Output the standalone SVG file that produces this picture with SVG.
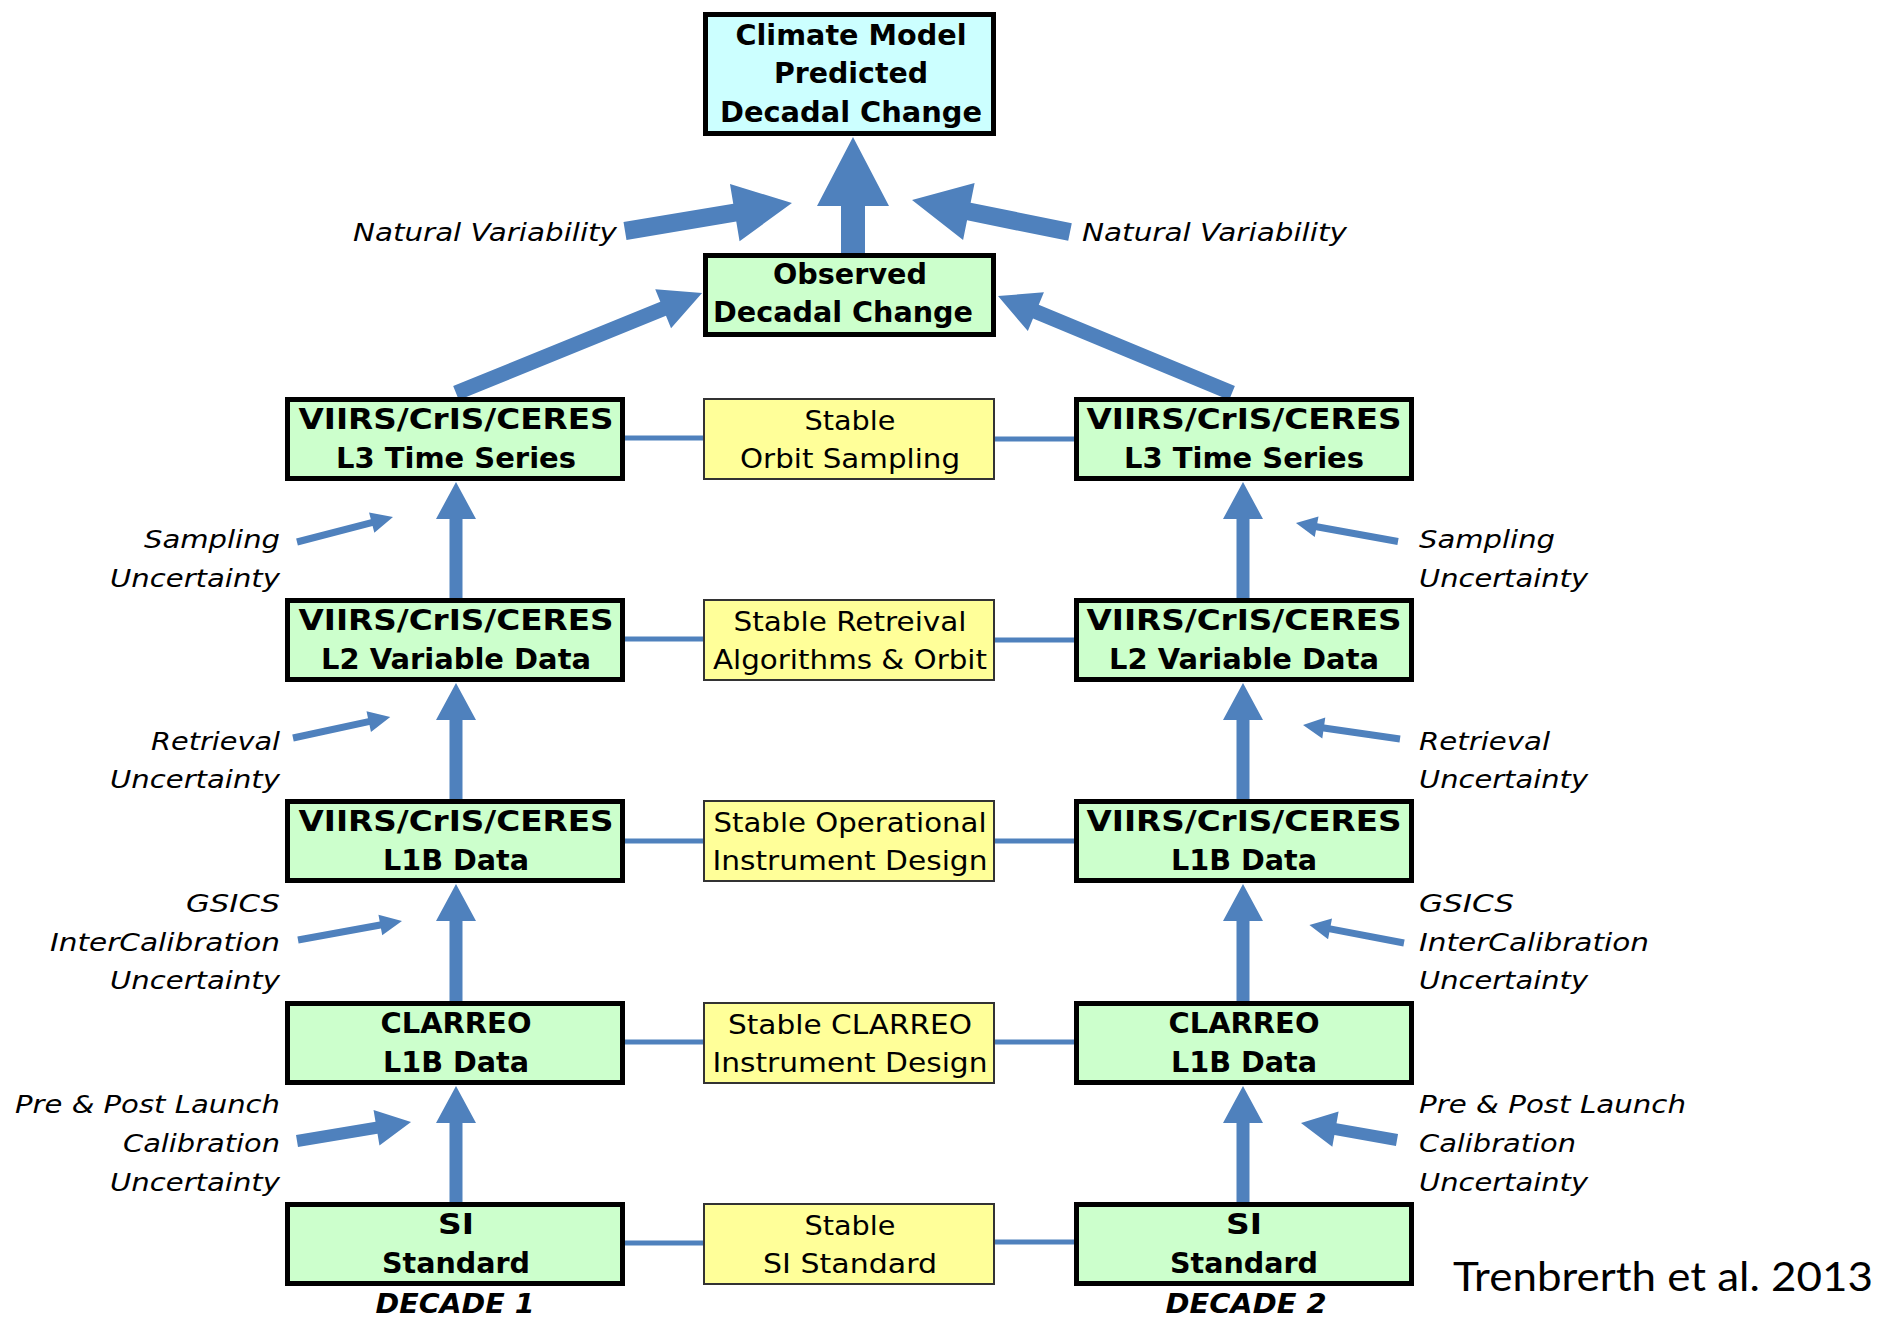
<svg xmlns="http://www.w3.org/2000/svg" xmlns:xlink="http://www.w3.org/1999/xlink" width="1880" height="1317" viewBox="0 0 1880 1317">
<defs>
<style>
.g{fill:#CCFFCC;stroke:#000;stroke-width:5}
.c{fill:#CCFFFF;stroke:#000;stroke-width:5}
.y{fill:#FFFF99;stroke:#333;stroke-width:2}
.tb{font-family:"DejaVu Sans",Verdana,sans-serif;font-weight:bold;font-size:28px;text-anchor:middle;fill:#000}
.tr{font-family:"DejaVu Sans",Verdana,sans-serif;font-size:27px;text-anchor:middle;fill:#000}
.ti{font-family:"DejaVu Sans",Verdana,sans-serif;font-style:italic;font-size:25px;fill:#000}
.te{text-anchor:end}
.td{font-family:"DejaVu Sans",Verdana,sans-serif;font-style:italic;font-weight:bold;font-size:27px;text-anchor:middle;fill:#000}
.arr{fill:#4F81BD}
.ln{stroke:#4F81BD;stroke-width:5;fill:none}
</style>
<path id="varrow" class="arr" d="M0,0 L20,37 L6.5,37 L6.5,117 L-6.5,117 L-6.5,37 L-20,37 Z"/>
</defs>
<rect width="1880" height="1317" fill="#fff"/>

<g id="connectors">
  <line class="ln" x1="625" y1="438" x2="704" y2="438"/>
  <line class="ln" x1="994" y1="439" x2="1075" y2="439"/>
  <line class="ln" x1="625" y1="639" x2="704" y2="639"/>
  <line class="ln" x1="994" y1="640" x2="1075" y2="640"/>
  <line class="ln" x1="625" y1="841" x2="704" y2="841"/>
  <line class="ln" x1="994" y1="841" x2="1075" y2="841"/>
  <line class="ln" x1="625" y1="1042" x2="704" y2="1042"/>
  <line class="ln" x1="994" y1="1042" x2="1075" y2="1042"/>
  <line class="ln" x1="625" y1="1243" x2="704" y2="1243"/>
  <line class="ln" x1="994" y1="1242" x2="1075" y2="1242"/>
  <use href="#varrow" x="456" y="482"/>
  <use href="#varrow" x="456" y="683"/>
  <use href="#varrow" x="456" y="884"/>
  <use href="#varrow" x="456" y="1086"/>
  <use href="#varrow" x="1243" y="482"/>
  <use href="#varrow" x="1243" y="683"/>
  <use href="#varrow" x="1243" y="884"/>
  <use href="#varrow" x="1243" y="1086"/>
  <polygon class="arr" points="841,253 841,206 817,206 853,137 889,206 865,206 865,253"/>
  <polygon class="arr" transform="translate(625,231) rotate(-9.52)" points="0,-9 111.3,-9 111.3,-29 169.3,0 111.3,29 111.3,9 0,9"/>
  <polygon class="arr" transform="translate(1070,232) rotate(-168.55)" points="0,-9 103.2,-9 103.2,-29 161.2,0 103.2,29 103.2,9 0,9"/>
  <polygon class="arr" transform="translate(456,393) rotate(-22.12)" points="0,-7.5 223.6,-7.5 223.6,-21 265.6,0 223.6,21 223.6,7.5 0,7.5"/>
  <polygon class="arr" transform="translate(1232,393) rotate(-157.48)" points="0,-7.5 212.3,-7.5 212.3,-21 253.3,0 212.3,21 212.3,7.5 0,7.5"/>
  <polygon class="arr" transform="translate(297,542) rotate(-14.6)" points="0,-3.5 77.2,-3.5 77.2,-10.5 99.2,0 77.2,10.5 77.2,3.5 0,3.5"/>
  <polygon class="arr" transform="translate(293,738) rotate(-12.2)" points="0,-3.5 77.5,-3.5 77.5,-10.5 99.5,0 77.5,10.5 77.5,3.5 0,3.5"/>
  <polygon class="arr" transform="translate(298,940) rotate(-10.35)" points="0,-3.5 83.7,-3.5 83.7,-10.5 105.7,0 83.7,10.5 83.7,3.5 0,3.5"/>
  <polygon class="arr" transform="translate(297,1141) rotate(-9.46)" points="0,-6 80.6,-6 80.6,-18 115.6,0 80.6,18 80.6,6 0,6"/>
  <polygon class="arr" transform="translate(1398,541.5) rotate(-169.72)" points="0,-3.5 82.7,-3.5 82.7,-10.5 103.7,0 82.7,10.5 82.7,3.5 0,3.5"/>
  <polygon class="arr" transform="translate(1400,739) rotate(-171.79)" points="0,-3.5 77,-3.5 77,-10.5 98,0 77,10.5 77,3.5 0,3.5"/>
  <polygon class="arr" transform="translate(1404,943) rotate(-169.23)" points="0,-3.5 75.3,-3.5 75.3,-10.5 96.3,0 75.3,10.5 75.3,3.5 0,3.5"/>
  <polygon class="arr" transform="translate(1397,1140) rotate(-169.96)" points="0,-6 62.5,-6 62.5,-18 97.5,0 62.5,18 62.5,6 0,6"/>
</g>

<g id="climate-model">
  <rect class="c" x="705.5" y="14.5" width="288" height="119"/>
  <text class="tb" x="851" y="45" textLength="231" lengthAdjust="spacingAndGlyphs">Climate Model</text>
  <text class="tb" x="851" y="83" textLength="154" lengthAdjust="spacingAndGlyphs">Predicted</text>
  <text class="tb" x="851" y="122" textLength="262" lengthAdjust="spacingAndGlyphs">Decadal Change</text>
</g>

<g id="observed">
  <rect class="g" x="705.5" y="255.5" width="288" height="79"/>
  <text class="tb" x="850" y="284" textLength="154" lengthAdjust="spacingAndGlyphs">Observed</text>
  <text class="tb" x="843" y="322" textLength="260" lengthAdjust="spacingAndGlyphs">Decadal Change</text>
</g>

<g id="l3-left">
  <rect class="g" x="287.5" y="399.5" width="335" height="79"/>
  <text class="tb" x="456" y="429" textLength="315" lengthAdjust="spacingAndGlyphs">VIIRS/CrIS/CERES</text>
  <text class="tb" x="456" y="468" textLength="240" lengthAdjust="spacingAndGlyphs">L3 Time Series</text>
</g>
<g id="l2-left">
  <rect class="g" x="287.5" y="600.5" width="335" height="79"/>
  <text class="tb" x="456" y="630" textLength="315" lengthAdjust="spacingAndGlyphs">VIIRS/CrIS/CERES</text>
  <text class="tb" x="456" y="669" textLength="270" lengthAdjust="spacingAndGlyphs">L2 Variable Data</text>
</g>
<g id="l1b-left">
  <rect class="g" x="287.5" y="801.5" width="335" height="79"/>
  <text class="tb" x="456" y="831" textLength="315" lengthAdjust="spacingAndGlyphs">VIIRS/CrIS/CERES</text>
  <text class="tb" x="456" y="870" textLength="146" lengthAdjust="spacingAndGlyphs">L1B Data</text>
</g>
<g id="clarreo-left">
  <rect class="g" x="287.5" y="1003.5" width="335" height="79"/>
  <text class="tb" x="456" y="1033" textLength="151" lengthAdjust="spacingAndGlyphs">CLARREO</text>
  <text class="tb" x="456" y="1072" textLength="146" lengthAdjust="spacingAndGlyphs">L1B Data</text>
</g>
<g id="si-left">
  <rect class="g" x="287.5" y="1204.5" width="335" height="79"/>
  <text class="tb" x="456" y="1234" textLength="36" lengthAdjust="spacingAndGlyphs">SI</text>
  <text class="tb" x="456" y="1273" textLength="148" lengthAdjust="spacingAndGlyphs">Standard</text>
</g>

<g id="l3-right">
  <rect class="g" x="1076.5" y="399.5" width="335" height="79"/>
  <text class="tb" x="1244" y="429" textLength="315" lengthAdjust="spacingAndGlyphs">VIIRS/CrIS/CERES</text>
  <text class="tb" x="1244" y="468" textLength="240" lengthAdjust="spacingAndGlyphs">L3 Time Series</text>
</g>
<g id="l2-right">
  <rect class="g" x="1076.5" y="600.5" width="335" height="79"/>
  <text class="tb" x="1244" y="630" textLength="315" lengthAdjust="spacingAndGlyphs">VIIRS/CrIS/CERES</text>
  <text class="tb" x="1244" y="669" textLength="270" lengthAdjust="spacingAndGlyphs">L2 Variable Data</text>
</g>
<g id="l1b-right">
  <rect class="g" x="1076.5" y="801.5" width="335" height="79"/>
  <text class="tb" x="1244" y="831" textLength="315" lengthAdjust="spacingAndGlyphs">VIIRS/CrIS/CERES</text>
  <text class="tb" x="1244" y="870" textLength="146" lengthAdjust="spacingAndGlyphs">L1B Data</text>
</g>
<g id="clarreo-right">
  <rect class="g" x="1076.5" y="1003.5" width="335" height="79"/>
  <text class="tb" x="1244" y="1033" textLength="151" lengthAdjust="spacingAndGlyphs">CLARREO</text>
  <text class="tb" x="1244" y="1072" textLength="146" lengthAdjust="spacingAndGlyphs">L1B Data</text>
</g>
<g id="si-right">
  <rect class="g" x="1076.5" y="1204.5" width="335" height="79"/>
  <text class="tb" x="1244" y="1234" textLength="36" lengthAdjust="spacingAndGlyphs">SI</text>
  <text class="tb" x="1244" y="1273" textLength="148" lengthAdjust="spacingAndGlyphs">Standard</text>
</g>

<g id="stable-orbit">
  <rect class="y" x="704" y="399" width="290" height="80"/>
  <text class="tr" x="850" y="430" textLength="91" lengthAdjust="spacingAndGlyphs">Stable</text>
  <text class="tr" x="850" y="468" textLength="220" lengthAdjust="spacingAndGlyphs">Orbit Sampling</text>
</g>
<g id="stable-retrieval">
  <rect class="y" x="704" y="600" width="290" height="80"/>
  <text class="tr" x="850" y="631" textLength="233" lengthAdjust="spacingAndGlyphs">Stable Retreival</text>
  <text class="tr" x="850" y="669" textLength="274" lengthAdjust="spacingAndGlyphs">Algorithms &amp; Orbit</text>
</g>
<g id="stable-operational">
  <rect class="y" x="704" y="801" width="290" height="80"/>
  <text class="tr" x="850" y="832" textLength="273" lengthAdjust="spacingAndGlyphs">Stable Operational</text>
  <text class="tr" x="850" y="870" textLength="275" lengthAdjust="spacingAndGlyphs">Instrument Design</text>
</g>
<g id="stable-clarreo">
  <rect class="y" x="704" y="1003" width="290" height="80"/>
  <text class="tr" x="850" y="1034" textLength="244" lengthAdjust="spacingAndGlyphs">Stable CLARREO</text>
  <text class="tr" x="850" y="1072" textLength="275" lengthAdjust="spacingAndGlyphs">Instrument Design</text>
</g>
<g id="stable-si">
  <rect class="y" x="704" y="1204" width="290" height="80"/>
  <text class="tr" x="850" y="1235" textLength="91" lengthAdjust="spacingAndGlyphs">Stable</text>
  <text class="tr" x="850" y="1273" textLength="174" lengthAdjust="spacingAndGlyphs">SI Standard</text>
</g>

<g id="labels">
  <text class="ti te" x="617" y="241" textLength="264" lengthAdjust="spacingAndGlyphs">Natural Variability</text>
  <text class="ti" x="1082" y="241" textLength="265" lengthAdjust="spacingAndGlyphs">Natural Variability</text>

  <text class="ti te" x="280" y="548" textLength="136" lengthAdjust="spacingAndGlyphs">Sampling</text>
  <text class="ti te" x="280" y="587" textLength="170" lengthAdjust="spacingAndGlyphs">Uncertainty</text>
  <text class="ti te" x="280" y="750" textLength="129" lengthAdjust="spacingAndGlyphs">Retrieval</text>
  <text class="ti te" x="280" y="788" textLength="170" lengthAdjust="spacingAndGlyphs">Uncertainty</text>
  <text class="ti te" x="280" y="912" textLength="94" lengthAdjust="spacingAndGlyphs">GSICS</text>
  <text class="ti te" x="280" y="951" textLength="230" lengthAdjust="spacingAndGlyphs">InterCalibration</text>
  <text class="ti te" x="280" y="989" textLength="170" lengthAdjust="spacingAndGlyphs">Uncertainty</text>
  <text class="ti te" x="280" y="1113" textLength="265" lengthAdjust="spacingAndGlyphs">Pre &amp; Post Launch</text>
  <text class="ti te" x="280" y="1152" textLength="157" lengthAdjust="spacingAndGlyphs">Calibration</text>
  <text class="ti te" x="280" y="1191" textLength="170" lengthAdjust="spacingAndGlyphs">Uncertainty</text>

  <text class="ti" x="1419" y="548" textLength="136" lengthAdjust="spacingAndGlyphs">Sampling</text>
  <text class="ti" x="1419" y="587" textLength="169" lengthAdjust="spacingAndGlyphs">Uncertainty</text>
  <text class="ti" x="1419" y="750" textLength="131" lengthAdjust="spacingAndGlyphs">Retrieval</text>
  <text class="ti" x="1419" y="788" textLength="169" lengthAdjust="spacingAndGlyphs">Uncertainty</text>
  <text class="ti" x="1419" y="912" textLength="95" lengthAdjust="spacingAndGlyphs">GSICS</text>
  <text class="ti" x="1419" y="951" textLength="230" lengthAdjust="spacingAndGlyphs">InterCalibration</text>
  <text class="ti" x="1419" y="989" textLength="169" lengthAdjust="spacingAndGlyphs">Uncertainty</text>
  <text class="ti" x="1419" y="1113" textLength="267" lengthAdjust="spacingAndGlyphs">Pre &amp; Post Launch</text>
  <text class="ti" x="1419" y="1152" textLength="157" lengthAdjust="spacingAndGlyphs">Calibration</text>
  <text class="ti" x="1419" y="1191" textLength="169" lengthAdjust="spacingAndGlyphs">Uncertainty</text>

  <text class="td" x="455" y="1313" textLength="159" lengthAdjust="spacingAndGlyphs">DECADE 1</text>
  <text class="td" x="1246" y="1313" textLength="161" lengthAdjust="spacingAndGlyphs">DECADE 2</text>

  <text x="1453" y="1291" font-family="Lato, 'Open Sans', sans-serif" font-size="40" fill="#000" textLength="420" lengthAdjust="spacingAndGlyphs">Trenbrerth et al. 2013</text>
</g>
</svg>
